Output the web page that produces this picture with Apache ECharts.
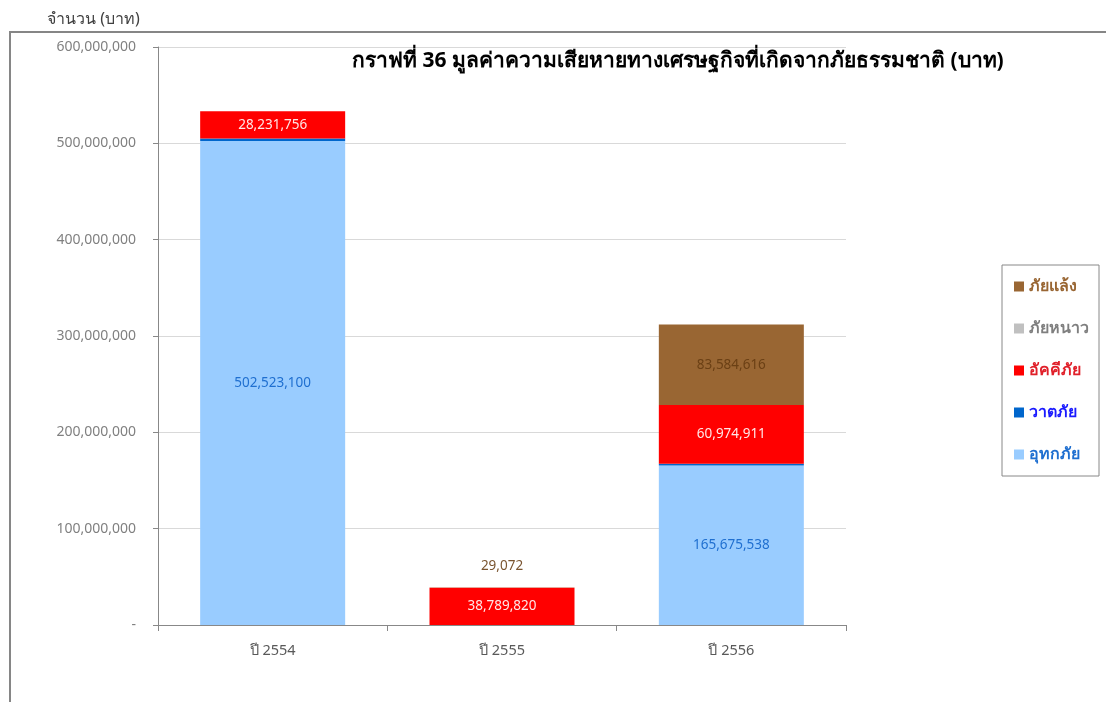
<!DOCTYPE html>
<html>
<head>
<meta charset="utf-8">
<script src="https://cdn.jsdelivr.net/npm/echarts@6/dist/echarts.min.js"></script>
<style>
html,body{margin:0;padding:0;background:#fff;}
#c{width:1106px;height:702px;}
</style>
</head>
<body>
<div id="c"></div>
<script>
var categories = ['ปี 2554', 'ปี 2555', 'ปี 2556'];
var floodVals = [502523100, 0, 165675538];      // อุทกภัย
var stormVals = [2500000, 0, 1800000];          // วาตภัย
var fireVals = [28231756, 38789820, 60974911];  // อัคคีภัย
var coldVals = [0, 0, 0];                       // ภัยหนาว
var droughtVals = [0, 29072, 83584616];         // ภัยแล้ง
var yTicks = [0, 100000000, 200000000, 300000000, 400000000, 500000000, 600000000];

var FONT = 'Tahoma, "Noto Sans", "DejaVu Sans", sans-serif';
function fmt(v){ return Number(v).toLocaleString('en-US'); }
function lbl(color){
  return {show:true, position:'inside', color:color, fontSize:13.5, fontFamily:FONT,
    formatter:function(p){ return p.value ? fmt(p.value) : ''; }};
}

var chart = echarts.init(document.getElementById('c'));
chart.setOption({
  animation:false,
  backgroundColor:'#fff',
  textStyle:{fontFamily:FONT},
  graphic:[
    {type:'rect', shape:{x:10, y:32, width:1200, height:800}, style:{fill:'none', stroke:'#868686', lineWidth:2}, z:-1},
    {type:'text', left:47, top:11, style:{text:'จำนวน (บาท)', font:'16px '+FONT, fill:'#404040'}}
  ],
  title:{
    text:'กราฟที่ 36 มูลค่าความเสียหายทางเศรษฐกิจที่เกิดจากภัยธรรมชาติ (บาท)',
    left:352, top:51, padding:0,
    textStyle:{fontSize:21, fontWeight:'bold', color:'#000', fontFamily:FONT}
  },
  legend:{
    orient:'vertical', left:1002, top:265, width:96,
    borderColor:'#888', borderWidth:1, padding:[12,10,12,12],
    itemWidth:10, itemHeight:10, itemGap:23, icon:'rect',
    textStyle:{fontSize:16, fontWeight:'bold', lineHeight:19, fontFamily:FONT},
    data:[
      {name:'ภัยแล้ง', textStyle:{color:'#996633'}},
      {name:'ภัยหนาว', textStyle:{color:'#7f7f7f'}},
      {name:'อัคคีภัย', textStyle:{color:'#e0202a'}},
      {name:'วาตภัย', textStyle:{color:'#1a1aff'}},
      {name:'อุทกภัย', textStyle:{color:'#1f6fd0'}}
    ]
  },
  grid:{left:158, right:260, top:47, bottom:77, containLabel:false},
  xAxis:{
    type:'category', data:categories,
    axisLine:{lineStyle:{color:'#888'}},
    axisTick:{show:true, length:6, lineStyle:{color:'#888'}},
    axisLabel:{color:'#595959', fontSize:14.5, margin:18, fontFamily:FONT}
  },
  yAxis:{
    type:'value', min:0, max:600000000, interval:100000000,
    axisLine:{show:true, lineStyle:{color:'#888'}},
    axisTick:{show:true, length:5, lineStyle:{color:'#888'}},
    splitLine:{lineStyle:{color:'#d9d9d9'}},
    axisLabel:{color:'#808080', fontSize:14, margin:22, fontFamily:FONT,
      formatter:function(v){ return v===0 ? '-' : fmt(v); }}
  },
  series:[
    {name:'อุทกภัย', type:'bar', stack:'a', barWidth:145, data:floodVals,
      itemStyle:{color:'#99CCFF'}, label:lbl('#1f6fd0')},
    {name:'วาตภัย', type:'bar', stack:'a', data:stormVals,
      itemStyle:{color:'#0066CC'}, label:{show:false}},
    {name:'อัคคีภัย', type:'bar', stack:'a', data:fireVals,
      itemStyle:{color:'#FF0000'}, label:lbl('#ffe6e6')},
    {name:'ภัยหนาว', type:'bar', stack:'a', data:coldVals,
      itemStyle:{color:'#C0C0C0'}, label:{show:false}},
    {name:'ภัยแล้ง', type:'bar', stack:'a',
      data:droughtVals.map(function(v,i){
        if (v && v < 1000000) return {value:v, label:{position:'top', distance:14, color:'#7a5530'}};
        return v;
      }),
      itemStyle:{color:'#996633'}, label:lbl('#6b4015')}
  ]
});
</script>
</body>
</html>
